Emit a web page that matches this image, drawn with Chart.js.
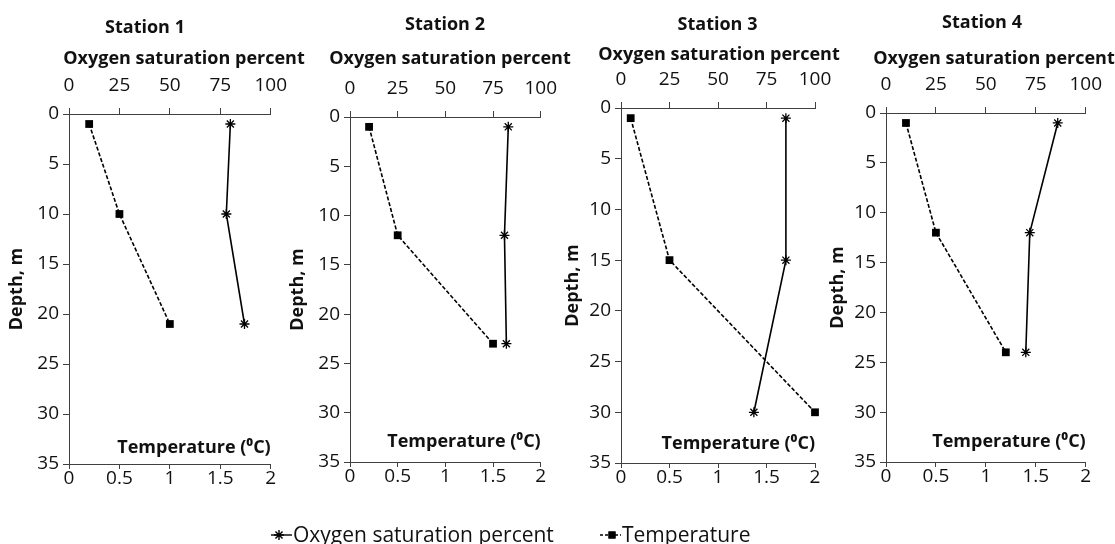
<!DOCTYPE html>
<html lang="en">
<head>
<meta charset="UTF-8">
<title>Oxygen saturation and temperature by depth</title>
<script src="https://cdn.jsdelivr.net/npm/chart.js@4"></script>
<style>
  body { margin: 0; background: #fff; width: 1115px; height: 544px; position: relative; overflow: hidden;
         font-family: 'Open Sans', sans-serif; color: #111; }
  canvas.panel { position: absolute; top: 0; }
  .lbl { position: absolute; font-weight: 700; font-size: 18px; line-height: 1; white-space: nowrap;
         transform: translate(-50%, -50%); }
  .leg { position: absolute; top: 524px; font-size: 21px; line-height: 1; white-space: nowrap; }
  canvas.mark { position: absolute; }
</style>
</head>
<body>
<script>
// data
const stations = ['Station 1', 'Station 2', 'Station 3', 'Station 4'];
const depth = [[1, 10, 21], [1, 12, 23], [1, 15, 30], [1, 12, 24]];
const oxygen = [[80, 78, 87], [83, 81, 82], [85, 85, 68.5], [86, 72, 70]];
const temperature = [[0.2, 0.5, 1.0], [0.2, 0.5, 1.5], [0.1, 0.5, 2.0], [0.2, 0.5, 1.2]];
const depthTicks = [0, 5, 10, 15, 20, 25, 30, 35];
const oxygenTicks = [0, 25, 50, 75, 100];
const tempTicks = [0, 0.5, 1, 1.5, 2];

// panel placement on the page
const panels = [
  {left: 0,   width: 300, plot: [69, 272, 114, 464],  yTitleX: 17,  tempY: 448, st: [145, 26],  oxy: [184, 57]},
  {left: 280, width: 290, plot: [350, 543, 117, 462], yTitleX: 298, tempY: 442, st: [445, 22.5], oxy: [450, 57]},
  {left: 555, width: 290, plot: [621, 815, 108, 463], yTitleX: 573, tempY: 444, st: [717.5, 23], oxy: [719, 53]},
  {left: 825, width: 290, plot: [886, 1089, 113, 462], yTitleX: 838, tempY: 442, st: [982, 21],  oxy: [994, 57]}
];
const H = 500;
const axisColor = '#404040';
const textColor = '#111';
const tickFont = {family: "'Open Sans'", size: 19, lineHeight: 1};
const boldFont = {family: "'Open Sans'", size: 18, weight: 'bold', lineHeight: 1.2};

function setTicks(arr) {
  return scale => { scale.ticks = arr.map(v => ({value: v})); };
}
const plain = v => String(v);

function label(text, x, y) {
  const d = document.createElement('div');
  d.className = 'lbl';
  d.textContent = text;
  d.style.left = x + 'px';
  d.style.top = y + 'px';
  document.body.appendChild(d);
}

panels.forEach((p, i) => {
  const [pl, pr, pt, pb] = p.plot;
  const cv = document.createElement('canvas');
  cv.className = 'panel';
  cv.width = p.width;
  cv.height = H;
  cv.style.left = p.left + 'px';
  document.body.appendChild(cv);

  label(stations[i], p.st[0], p.st[1]);
  label('Oxygen saturation percent', p.oxy[0], p.oxy[1]);

  new Chart(cv, {
    type: 'scatter',
    data: {
      datasets: [
        {
          label: 'Oxygen saturation percent',
          data: depth[i].map((d, k) => ({x: oxygen[i][k], y: d})),
          xAxisID: 'xo', yAxisID: 'y',
          showLine: true, clip: false,
          borderColor: '#000', borderWidth: 1.6,
          pointStyle: 'star', pointRadius: 5, pointBorderWidth: 1.3,
          pointBorderColor: '#000', pointBackgroundColor: '#000'
        },
        {
          label: 'Temperature',
          data: depth[i].map((d, k) => ({x: temperature[i][k], y: d})),
          xAxisID: 'xt', yAxisID: 'y',
          showLine: true, clip: false,
          borderColor: '#000', borderWidth: 1.6, borderDash: [4, 2],
          pointStyle: 'rect', pointRadius: 5.5, pointBorderWidth: 0,
          pointBackgroundColor: '#000'
        }
      ]
    },
    options: {
      responsive: false,
      animation: false,
      events: [],
      layout: {padding: {left: 0, top: 0, bottom: 0, right: p.left + p.width - pr}},
      plugins: {legend: {display: false}, tooltip: {enabled: false}},
      scales: {
        xo: {
          type: 'linear', axis: 'x', position: 'top', min: 0, max: 100,
          afterBuildTicks: setTicks(oxygenTicks),
          afterFit: s => { s.height = pt; },
          grid: {drawOnChartArea: false, drawTicks: true, tickLength: 6, color: axisColor},
          border: {display: true, color: axisColor, width: 1},
          ticks: {font: tickFont, color: textColor, padding: 13, maxRotation: 0, callback: plain}
        },
        xt: {
          type: 'linear', axis: 'x', position: 'bottom', min: 0, max: 2,
          afterBuildTicks: setTicks(tempTicks),
          afterFit: s => { s.height = H - pb; },
          grid: {drawOnChartArea: false, drawTicks: true, tickLength: 5, color: axisColor},
          border: {display: true, color: axisColor, width: 1},
          ticks: {font: tickFont, color: textColor, padding: 0, maxRotation: 0, callback: plain},
          title: {
            display: true, text: 'Temperature (\u2070C)', align: 'end',
            font: boldFont, color: textColor,
            padding: {top: 0, bottom: H - p.tempY - 10.8}
          }
        },
        y: {
          type: 'linear', position: 'left', reverse: true, min: 0, max: 35,
          afterBuildTicks: setTicks(depthTicks),
          afterFit: s => { s.width = pl - p.left; },
          grid: {drawOnChartArea: false, drawTicks: true, tickLength: 6, color: axisColor},
          border: {display: true, color: axisColor, width: 1},
          ticks: {font: tickFont, color: textColor, padding: 4, callback: plain},
          title: {
            display: true, text: 'Depth, m', font: boldFont, color: textColor,
            padding: {top: p.yTitleX - p.left - 10.8, bottom: 0}
          }
        }
      }
    }
  });
});

// legend below the panels
function legendMark(x, style, dashed) {
  const c = document.createElement('canvas');
  c.className = 'mark';
  c.width = 22; c.height = 16;
  c.style.left = x + 'px';
  c.style.top = '527px';
  document.body.appendChild(c);
  const ctx = c.getContext('2d');
  ctx.strokeStyle = '#000';
  ctx.fillStyle = '#000';
  ctx.lineWidth = 1.4;
  if (dashed) ctx.setLineDash([3, 2]);
  ctx.beginPath(); ctx.moveTo(0, 8); ctx.lineTo(21, 8); ctx.stroke();
  ctx.setLineDash([]);
  const opts = {pointStyle: style.pointStyle, radius: style.radius, borderWidth: style.borderWidth, rotation: 0};
  Chart.helpers.drawPoint(ctx, opts, style.cx, 8);
  if (style.pointStyle === 'rect') ctx.fill();
}
function legendText(text, x) {
  const d = document.createElement('div');
  d.className = 'leg';
  d.textContent = text;
  d.style.left = x + 'px';
  document.body.appendChild(d);
}
legendMark(271, {pointStyle: 'star', radius: 5, borderWidth: 1.3, cx: 8}, false);
legendText('Oxygen saturation percent', 293);
legendMark(600, {pointStyle: 'rect', radius: 5, borderWidth: 0, cx: 12}, true);
legendText('Temperature', 622);
</script>
</body>
</html>
